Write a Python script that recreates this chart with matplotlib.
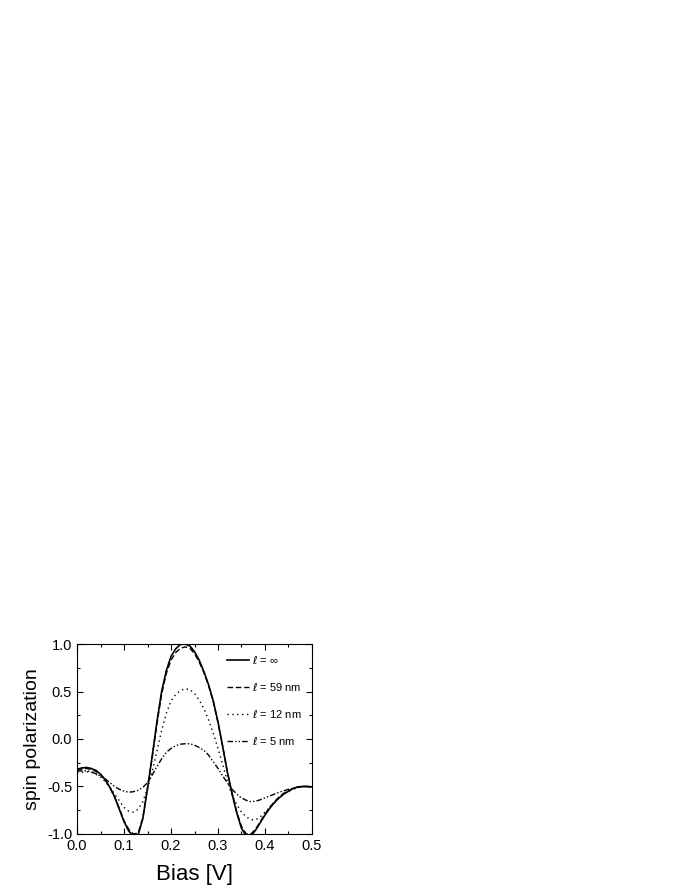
import matplotlib
matplotlib.use("Agg")
import matplotlib.pyplot as plt
from matplotlib.ticker import MultipleLocator, FormatStrFormatter

plt.rcParams['font.family'] = ['Liberation Sans', 'DejaVu Sans']
plt.rcParams['mathtext.fontset'] = 'dejavusans'

# Bias [V]
bias = [0.00, 0.01, 0.02, 0.03, 0.04, 0.05, 0.06, 0.07, 0.08, 0.09,
        0.10, 0.11, 0.12, 0.13, 0.14, 0.15, 0.16, 0.17, 0.18, 0.19,
        0.20, 0.21, 0.22, 0.23, 0.24, 0.25, 0.26, 0.27, 0.28, 0.29,
        0.30, 0.31, 0.32, 0.33, 0.34, 0.35, 0.36, 0.37, 0.38, 0.39,
        0.40, 0.41, 0.42, 0.43, 0.44, 0.45, 0.46, 0.47, 0.48, 0.49, 0.50]

# spin polarization, l = infinity
pol_inf = [-0.32, -0.305, -0.30, -0.31, -0.33, -0.37, -0.43, -0.51, -0.61, -0.74,
           -0.87, -0.97, -1.02, -1.01, -0.84, -0.52, -0.18, 0.18, 0.50, 0.72,
           0.87, 0.95, 0.995, 1.00, 0.98, 0.92, 0.83, 0.71, 0.57, 0.40,
           0.18, -0.08, -0.35, -0.58, -0.78, -0.94, -1.02, -1.02, -0.96, -0.88,
           -0.80, -0.73, -0.67, -0.62, -0.58, -0.55, -0.52, -0.505, -0.50, -0.50, -0.505]

# l = 59 nm
pol_59 = [-0.33, -0.315, -0.31, -0.32, -0.34, -0.375, -0.43, -0.51, -0.61, -0.73,
          -0.86, -0.95, -1.00, -0.99, -0.83, -0.52, -0.19, 0.16, 0.47, 0.69,
          0.83, 0.91, 0.955, 0.97, 0.955, 0.90, 0.81, 0.70, 0.56, 0.39,
          0.17, -0.08, -0.35, -0.57, -0.77, -0.92, -1.00, -1.00, -0.95, -0.87,
          -0.79, -0.72, -0.66, -0.61, -0.57, -0.545, -0.52, -0.505, -0.50, -0.50, -0.505]

# l = 12 nm
pol_12 = [-0.355, -0.35, -0.345, -0.35, -0.37, -0.40, -0.45, -0.51, -0.58, -0.65,
          -0.72, -0.76, -0.77, -0.74, -0.66, -0.52, -0.34, -0.13, 0.09, 0.27,
          0.40, 0.47, 0.51, 0.53, 0.52, 0.48, 0.41, 0.32, 0.20, 0.06,
          -0.10, -0.27, -0.45, -0.59, -0.69, -0.77, -0.82, -0.85, -0.85, -0.82,
          -0.77, -0.72, -0.67, -0.62, -0.58, -0.55, -0.53, -0.51, -0.50, -0.50, -0.505]

# l = 5 nm
pol_5 = [-0.34, -0.335, -0.335, -0.345, -0.365, -0.39, -0.42, -0.46, -0.50, -0.53,
         -0.55, -0.56, -0.555, -0.54, -0.51, -0.46, -0.38, -0.29, -0.21, -0.14,
         -0.10, -0.07, -0.055, -0.05, -0.05, -0.065, -0.09, -0.12, -0.17, -0.24,
         -0.31, -0.39, -0.46, -0.53, -0.58, -0.62, -0.645, -0.66, -0.655, -0.64,
         -0.62, -0.60, -0.58, -0.56, -0.545, -0.53, -0.52, -0.51, -0.50, -0.50, -0.505]

fig = plt.figure(figsize=(6.89, 8.91), dpi=100)
ax = fig.add_axes([0.1118, 0.064, 0.341, 0.2132])

ax.plot(bias, pol_inf, color='black', lw=1.2, ls='-', label=r'$\ell$ = ∞')
ax.plot(bias, pol_59, color='black', lw=1.0, ls=(0, (4, 2)), label=r'$\ell$ = 59 nm')
ax.plot(bias, pol_12, color='black', lw=1.0, ls=(0, (1, 2.5)), label=r'$\ell$ = 12 nm')
ax.plot(bias, pol_5, color='black', lw=1.0, ls=(0, (4, 1.5, 1, 1.5, 1, 1.5)), label=r'$\ell$ = 5 nm')

ax.set_xlim(0.0, 0.5)
ax.set_ylim(-1.0, 1.0)
ax.xaxis.set_major_locator(MultipleLocator(0.1))
ax.xaxis.set_minor_locator(MultipleLocator(0.05))
ax.yaxis.set_major_locator(MultipleLocator(0.5))
ax.yaxis.set_minor_locator(MultipleLocator(0.25))
ax.tick_params(which='both', direction='in', top=True, right=True, labelsize=10.5)
ax.tick_params(which='major', length=4, width=0.8)
ax.tick_params(which='minor', length=2, width=0.8)
ax.xaxis.set_major_formatter(FormatStrFormatter('%.1f'))
ax.yaxis.set_major_formatter(FormatStrFormatter('%.1f'))

ax.set_xlabel('Bias [V]', fontsize=16, labelpad=8)
ax.set_ylabel('spin polarization', fontsize=14, labelpad=4)

ax.legend(loc='upper right', frameon=False, fontsize=8, handlelength=2.0,
          labelspacing=1.35, handletextpad=0.3, borderaxespad=0.5)

plt.savefig('out.png', dpi=100)
